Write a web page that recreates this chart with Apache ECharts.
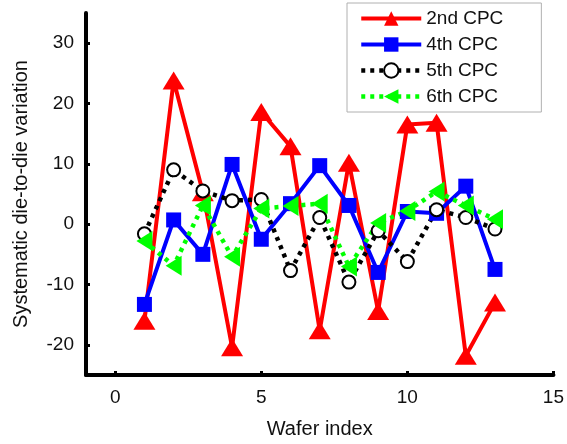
<!DOCTYPE html>
<html><head><meta charset="utf-8">
<script src="https://cdn.jsdelivr.net/npm/echarts@6/dist/echarts.min.js"></script>
<style>html,body{margin:0;padding:0;background:#fff}#c{width:567px;height:444px}</style>
</head><body><div id="c"></div>
<script>
var waferIndex = [1,2,3,4,5,6,7,8,9,10,11,12,13];
var cpc2 = [-16.0, 23.8, 5.3, -20.4, 18.6, 12.9, -17.6, 10.2, -14.4, 16.5, 16.8, -21.8, -13.0];
var cpc4 = [-13.3, 0.7, -5.0, 9.9, -2.5, 3.4, 9.7, 3.1, -8.0, 2.1, 1.8, 6.3, -7.5];
var cpc5 = [-1.6, 9.0, 5.5, 3.9, 4.1, -7.7, 1.1, -9.6, -1.1, -6.2, 2.4, 1.1, -0.8];
var cpc6 = [-2.8, -6.9, 3.1, -5.4, 2.6, 3.0, 3.4, -7.0, 0.2, 2.2, 5.4, 3.1, 0.8];
var seriesNames = ['2nd CPC', '4th CPC', '5th CPC', '6th CPC'];
var xTicks = [0, 5, 10, 15];
var yTicks = [-20, -10, 0, 10, 20, 30];

function pairs(v){ return waferIndex.map(function(x,i){ return [x, v[i]]; }); }
var font = "'Liberation Sans', Arial, sans-serif";
var chart = echarts.init(document.getElementById('c'), null, {renderer:'canvas'});
var axisCommon = {
  axisLine: {show:true, onZero:false, lineStyle:{color:'#000', width:4}},
  axisTick: {show:true, inside:true, length:4, lineStyle:{color:'#000', width:3}},
  splitLine: {show:false},
  axisLabel: {color:'#111', fontSize:19, fontFamily:font, margin:12},
  nameTextStyle: {color:'#111', fontSize:20, fontFamily:font}
};
var dots = [4,5];
chart.setOption({
  animation:false,
  backgroundColor:'#fff',
  grid:{left:86, right:12, top:13, bottom:65, containLabel:false},
  legend:{
    orient:'vertical', left:347, top:3,
    padding:[6,38,6,12], itemGap:7, itemWidth:60, itemHeight:18,
    backgroundColor:'#fff', borderColor:'#b0b0b0', borderWidth:1, borderRadius:0,
    textStyle:{color:'#111', fontSize:19, fontFamily:font},
    data: [
      {name:seriesNames[0], lineStyle:{width:4}},
      {name:seriesNames[1], lineStyle:{width:4}},
      {name:seriesNames[2], lineStyle:{width:4.5, type:dots}},
      {name:seriesNames[3], lineStyle:{width:4.5, type:dots}}
    ]
  },
  xAxis: Object.assign({}, axisCommon, {
    type:'value', min:-1, max:15,
    name:'Wafer index', nameLocation:'middle', nameGap:44,
    axisTick: Object.assign({}, axisCommon.axisTick, {customValues:xTicks}),
    axisLabel: Object.assign({}, axisCommon.axisLabel, {customValues:xTicks, margin:13})
  }),
  yAxis: Object.assign({}, axisCommon, {
    type:'value', min:-25, max:35,
    name:'Systematic die-to-die variation', nameLocation:'middle', nameGap:55,
    axisTick: Object.assign({}, axisCommon.axisTick, {customValues:yTicks}),
    axisLabel: Object.assign({}, axisCommon.axisLabel, {customValues:yTicks})
  }),
  series:[
    {name:seriesNames[0], type:'line', data:pairs(cpc2), symbol:'triangle', symbolSize:[22,18],
     itemStyle:{color:'#ff0000'}, lineStyle:{color:'#ff0000', width:4}},
    {name:seriesNames[1], type:'line', data:pairs(cpc4), symbol:'rect', symbolSize:15,
     itemStyle:{color:'#0000ff'}, lineStyle:{color:'#0000ff', width:4}},
    {name:seriesNames[2], type:'line', data:pairs(cpc5), symbol:'emptyCircle', symbolSize:13,
     itemStyle:{color:'#000', borderColor:'#000', borderWidth:3.5}, lineStyle:{color:'#000', width:4.5, type:dots}},
    {name:seriesNames[3], type:'line', data:pairs(cpc6), symbol:'triangle', symbolSize:[20,16], symbolRotate:90,
     itemStyle:{color:'#00ff00'}, lineStyle:{color:'#00ff00', width:4.5, type:dots}}
  ]
});
</script></body></html>
